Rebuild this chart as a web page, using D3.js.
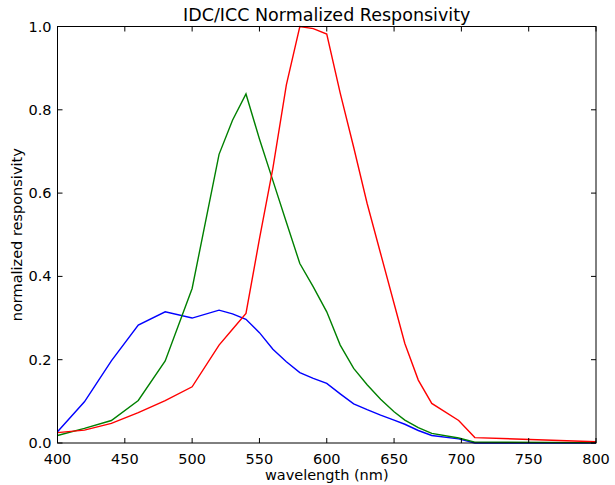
<!DOCTYPE html>
<html>
<head>
<meta charset="utf-8">
<script src="https://cdn.jsdelivr.net/npm/d3@7"></script>
<style>
  body { margin: 0; background: #fff; }
  text { font-family: "DejaVu Sans", sans-serif; fill: #000; }
</style>
</head>
<body>
<script>
//values
var wavelengths = [400, 420, 440, 460, 480, 500, 520, 530, 540, 550, 560, 570, 580, 590, 600,
                   610, 620, 630, 640, 650, 658, 668, 678, 698, 710, 800];
var red   = [0.025, 0.031, 0.047, 0.073, 0.102, 0.135, 0.235, 0.273, 0.311, 0.49, 0.66, 0.86, 1.0, 0.995, 0.982,
             0.84, 0.71, 0.575, 0.455, 0.335, 0.239, 0.151, 0.095, 0.054, 0.013, 0.003];
var green = [0.018, 0.035, 0.054, 0.102, 0.197, 0.371, 0.693, 0.775, 0.838, 0.73, 0.63, 0.53, 0.431, 0.375, 0.315,
             0.235, 0.179, 0.14, 0.105, 0.075, 0.055, 0.037, 0.023, 0.012, 0.002, 0.001];
var blue  = [0.027, 0.099, 0.197, 0.283, 0.315, 0.300, 0.319, 0.31, 0.297, 0.265, 0.225, 0.195, 0.169, 0.155, 0.143,
             0.118, 0.094, 0.08, 0.067, 0.055, 0.045, 0.03, 0.018, 0.01, 0.0, 0.0];
var xTicks = [400, 450, 500, 550, 600, 650, 700, 750, 800];
var yTicks = [0.0, 0.2, 0.4, 0.6, 0.8, 1.0];

var series = [
  {name: "blue", color: "#0000ff", values: blue},
  {name: "green", color: "#008000", values: green},
  {name: "red", color: "#ff0000", values: red}
];

//plot box
var margin = {top: 26.5, right: 19, bottom: 42, left: 57.5},
    width = 615 - margin.left - margin.right,
    height = 485 - margin.top - margin.bottom;

var svg = d3.select("body").append("svg")
    .attr("width", 615)
    .attr("height", 485);

var g = svg.append("g")
    .attr("transform", "translate(" + margin.left + "," + margin.top + ")");

var x = d3.scaleLinear().domain([400, 800]).range([0, width]);
var y = d3.scaleLinear().domain([0, 1]).range([height, 0]);

//curves
var line = d3.line()
    .x(function(d, i) { return x(wavelengths[i]); })
    .y(function(d) { return y(d); });

g.selectAll(".curve")
    .data(series)
    .enter().append("path")
    .attr("class", "curve")
    .attr("fill", "none")
    .attr("stroke", function(d) { return d.color; })
    .attr("stroke-width", 1.4)
    .attr("d", function(d) { return line(d.values); });

//frame
g.append("rect")
    .attr("width", width)
    .attr("height", height)
    .attr("fill", "none")
    .attr("stroke", "#000")
    .attr("stroke-width", 1);

//ticks, matplotlib classic style: inside, on all four sides
var tickLen = 5;
g.append("g").selectAll("line").data(xTicks).enter().append("line")
    .attr("x1", x).attr("x2", x)
    .attr("y1", height).attr("y2", height - tickLen)
    .attr("stroke", "#000");
g.append("g").selectAll("line").data(xTicks).enter().append("line")
    .attr("x1", x).attr("x2", x)
    .attr("y1", 0).attr("y2", tickLen)
    .attr("stroke", "#000");
g.append("g").selectAll("line").data(yTicks).enter().append("line")
    .attr("x1", 0).attr("x2", tickLen)
    .attr("y1", y).attr("y2", y)
    .attr("stroke", "#000");
g.append("g").selectAll("line").data(yTicks).enter().append("line")
    .attr("x1", width).attr("x2", width - tickLen)
    .attr("y1", y).attr("y2", y)
    .attr("stroke", "#000");

//tick labels
g.append("g").selectAll("text").data(xTicks).enter().append("text")
    .attr("x", x)
    .attr("y", height + 21)
    .attr("text-anchor", "middle")
    .style("font-size", "14.5px")
    .text(function(d) { return d; });

g.append("g").selectAll("text").data(yTicks).enter().append("text")
    .attr("x", -6)
    .attr("y", y)
    .attr("dy", "0.35em")
    .attr("text-anchor", "end")
    .style("font-size", "14.5px")
    .text(function(d) { return d3.format(".1f")(d); });

//axis labels and title
svg.append("text")
    .attr("x", margin.left + width / 2)
    .attr("y", 480)
    .attr("text-anchor", "middle")
    .style("font-size", "14.5px")
    .text("wavelength (nm)");

svg.append("text")
    .attr("transform", "translate(22," + (margin.top + height / 2) + ") rotate(-90)")
    .attr("text-anchor", "middle")
    .style("font-size", "14.5px")
    .text("normalized responsivity");

svg.append("text")
    .attr("x", margin.left + width / 2)
    .attr("y", 21)
    .attr("text-anchor", "middle")
    .style("font-size", "17.5px")
    .text("IDC/ICC Normalized Responsivity");
</script>
</body>
</html>
